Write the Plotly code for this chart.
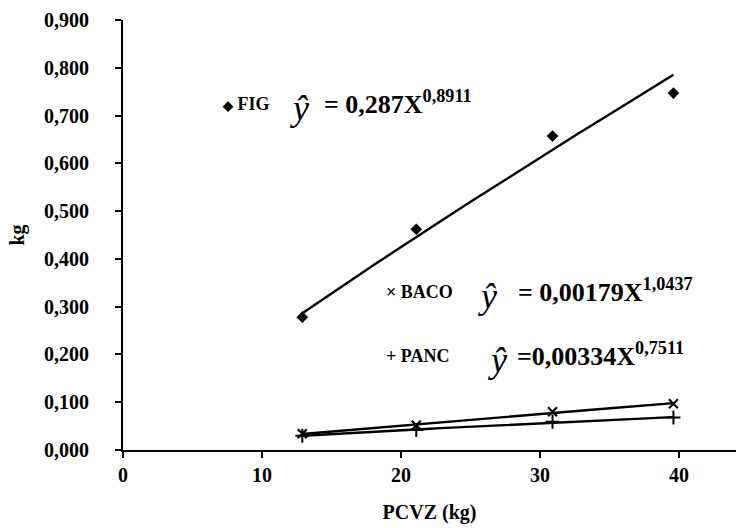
import numpy as np
import plotly.graph_objects as go

# Data
pcvz = [12.9, 21.1, 30.9, 39.6]
fig_kg = [0.278, 0.462, 0.657, 0.747]
baco_kg = [0.034, 0.052, 0.080, 0.097]
panc_kg = [0.030, 0.042, 0.059, 0.068]

x_ticks = [0, 10, 20, 30, 40]
y_ticks = [0.0, 0.1, 0.2, 0.3, 0.4, 0.5, 0.6, 0.7, 0.8, 0.9]

FONT = "Liberation Serif"


def power_fit(x, y):
    b, a = np.polyfit(np.log(x), np.log(y), 1)
    xs = np.linspace(min(x), max(x), 60)
    return xs, np.exp(a) * xs ** b


fig = go.Figure()

series = [
    (fig_kg, "diamond", 9, 0),
    (baco_kg, "x-thin", 9, 2.2),
    (panc_kg, "cross-thin", 10, 2.0),
]
for ys, sym, size, lw in series:
    xs, yf = power_fit(pcvz, ys)
    fig.add_trace(go.Scatter(x=xs, y=yf, mode="lines",
                             line=dict(color="black", width=2.4),
                             showlegend=False, hoverinfo="skip"))
    fig.add_trace(go.Scatter(x=pcvz, y=ys, mode="markers",
                             marker=dict(symbol=sym, size=size, color="black",
                                         line=dict(color="black", width=lw)),
                             showlegend=False))

lab = dict(family=FONT, size=18, color="black")
eq = dict(family=FONT, size=26, color="black")
hat = dict(family=FONT, size=36, color="black")

labels = [
    # (label text, x label, y, x hat, x eq, eq text)
    ("<span style='font-size:13px'>◆</span> FIG", 7.0, 0.724, 11.9, 14.3,
     "<b>= 0,287X<sup>0,8911</sup></b>"),
    ("× BACO", 18.8, 0.330, 25.4, 28.3, "<b>= 0,00179X<sup>1,0437</sup></b>"),
    ("+ PANC", 18.8, 0.196, 26.1, 28.2, "<b>=0,00334X<sup>0,7511</sup></b>"),
]
ann = []
for t, xl, yv, xh, xe, et in labels:
    ann.append(dict(x=xl, y=yv, xref="x", yref="y", text=f"<b>{t}</b>",
                    showarrow=False, xanchor="left", yanchor="middle", font=lab))
    ann.append(dict(x=xh, y=yv - 0.008, xref="x", yref="y", text="<i>ŷ</i>",
                    showarrow=False, xanchor="left", yanchor="middle", font=hat))
    ann.append(dict(x=xe, y=yv + 0.004, xref="x", yref="y", text=et,
                    showarrow=False, xanchor="left", yanchor="middle", font=eq))

tickfont = dict(family=FONT, size=20, color="black", weight="bold")

fig.update_layout(
    width=736, height=528,
    margin=dict(l=123, r=0, t=20, b=78),
    paper_bgcolor="white", plot_bgcolor="white",
    separators=",.",
    annotations=ann,
    font=dict(family=FONT, color="black"),
)
fig.update_xaxes(
    range=[0, 44.1], tickvals=x_ticks, ticks="outside", ticklen=6,
    tickwidth=1.5, tickcolor="black", showline=True, linecolor="black",
    linewidth=2, showgrid=False, zeroline=False, tickfont=tickfont,
    title=dict(text="<b>PCVZ (kg)</b>", font=dict(family=FONT, size=20, color="black"),
               standoff=20),
)
fig.update_yaxes(
    range=[0, 0.9], tickvals=y_ticks, tickformat=".3f", ticks="outside",
    ticklen=6, tickwidth=1.5, tickcolor="black", showline=True,
    linecolor="black", linewidth=2, showgrid=False, zeroline=False,
    tickfont=tickfont, ticklabelstandoff=22,
    title=dict(text="<b>kg</b>", font=dict(family=FONT, size=20, color="black"),
               standoff=14),
)

fig.write_html("out.html")
